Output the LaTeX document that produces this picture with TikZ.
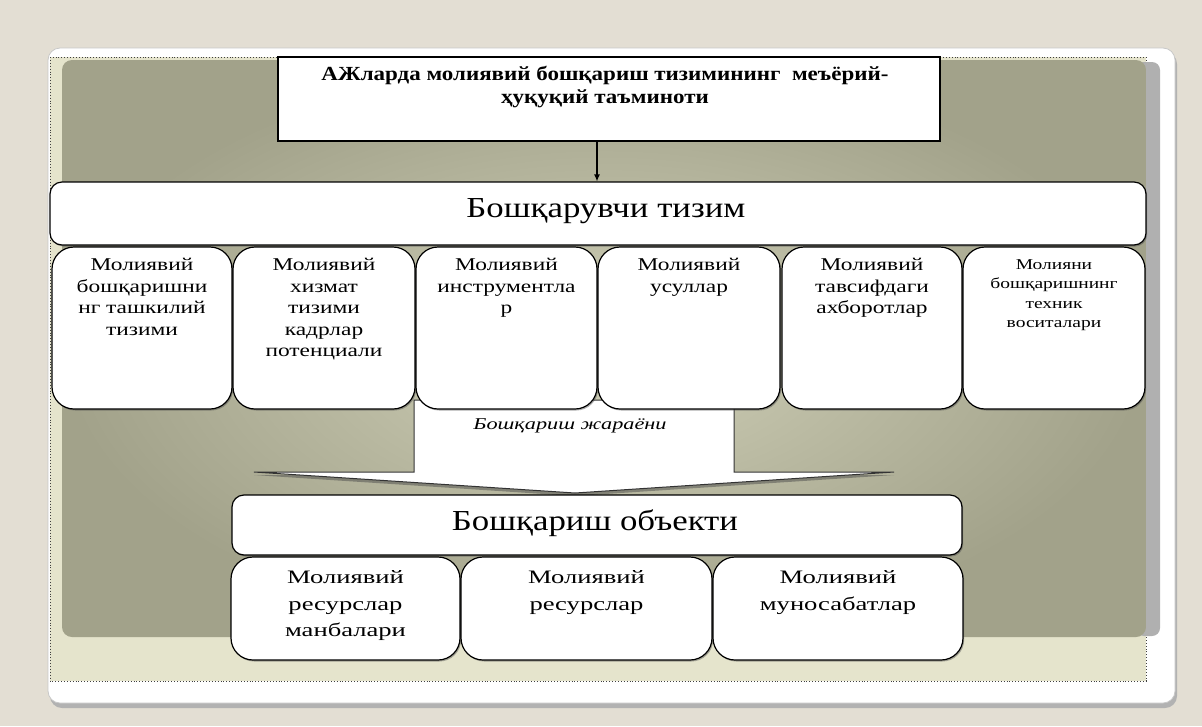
\documentclass[tikz,border=0pt]{standalone}
\usepackage{fontspec}
\setmainfont{Liberation Serif}
\newfontfamily\fsix[FakeStretch=1.3]{Liberation Serif}
\newfontfamily\ftop[FakeStretch=1.15]{Liberation Serif}
\newfontfamily\fbig[FakeStretch=1.2]{Liberation Serif}
\newfontfamily\flow[FakeStretch=1.4]{Liberation Serif}
\newfontfamily\fit[FakeStretch=1.35]{Liberation Serif}
\usetikzlibrary{shadows,arrows.meta}
\definecolor{bgcol}{HTML}{E3DED3}
\definecolor{cream}{HTML}{E5E4CC}
\definecolor{oliveout}{HTML}{A2A28A}
\definecolor{olivein}{HTML}{D0D0B8}
\definecolor{sidegray}{HTML}{B0B0B0}
\definecolor{cardline}{HTML}{C8C8C8}
\begin{document}
\begin{tikzpicture}[x=1pt,y=-1pt,
  bx/.style={draw=black, line width=1.2pt, fill=white, inner sep=0pt,
    drop shadow={shadow xshift=1.2pt, shadow yshift=-1.5pt, fill=black!70, opacity=0.45}},
  tall/.style={bx, rounded corners=22pt, minimum height=162pt},
  wide/.style={bx, rounded corners=12pt},
  low/.style={bx, rounded corners=22pt, minimum height=103pt},
  sixtxt/.style={anchor=north, align=center, inner sep=0pt, font=\fsix\fontsize{18}{21.5}\selectfont},
  smalltxt/.style={anchor=north, align=center, inner sep=0pt, font=\fsix\fontsize{15}{19.5}\selectfont},
  lowtxt/.style={anchor=north, align=center, inner sep=0pt, font=\flow\fontsize{19}{26.5}\selectfont},
  bigtxt/.style={font=\fbig\fontsize{29}{32}\selectfont}
]
\useasboundingbox (0,0) rectangle (1202,726);
\fill[bgcol] (0,0) rectangle (1202,726);
% card with shadow
\fill[black!30, rounded corners=12pt] (50,52) rectangle (1177,708);
\filldraw[fill=white, draw=cardline, line width=0.8pt, rounded corners=12pt] (48,48) rectangle (1175,703);
% dotted frame
\filldraw[fill=cream, draw=black!75, dotted, line width=0.9pt] (50,57) rectangle (1146,681);
% right gray shadow
\fill[sidegray, rounded corners=8pt] (1136,62) rectangle (1160,636);
% olive panel
\shade[inner color=olivein, outer color=oliveout, rounded corners=10pt] (62,60) rectangle (1146,637);

% block arrow (behind the boxes)
\filldraw[fill=white, draw=black!80, line width=1pt,
  drop shadow={shadow xshift=0pt, shadow yshift=-3pt, fill=black!70, opacity=0.5}]
  (414,400) -- (414,472) -- (254,472) -- (575,493) -- (894,472) -- (734,472) -- (734,400) -- cycle;
\node[font=\fit\itshape\fontsize{16.5}{18}\selectfont] (proc) at (570,426) {Бошқариш жараёни};

% top box
\node[draw=black, line width=1.2pt, fill=white, minimum width=662pt, minimum height=84pt, inner sep=0pt] (top) at (609,99) {};
\node[anchor=north, align=center, inner sep=0pt, font=\ftop\bfseries\fontsize{20}{23}\selectfont] (toptxt) at (605,66)
  {АЖларда молиявий бошқариш тизимининг\ \ меъёрий-\\ҳуқуқий таъминоти};

% control system
\node[wide, minimum width=1096pt, minimum height=63pt] (ctrl) at (598,213.5) {};
\node[bigtxt] (ctrltxt) at (606,211) {Бошқарувчи тизим};

% arrow from top to control system
\coordinate (ax) at (597,0);
\draw[line width=1.2pt, -{Latex[length=7pt,width=6pt]}] (top.south -| ax) -- (ctrl.north -| ax);

% six boxes
\node[tall, minimum width=180pt] (b1) at (142,328) {};
\node[tall, minimum width=182pt] (b2) at (324,328) {};
\node[tall, minimum width=181pt] (b3) at (506.5,328) {};
\node[tall, minimum width=182pt] (b4) at (689,328) {};
\node[tall, minimum width=180pt] (b5) at (872,328) {};
\node[tall, minimum width=182pt] (b6) at (1054,328) {};
\node[sixtxt] (t1) at ([yshift=-12pt]b1.north) {Молиявий\\бошқаришни\\нг ташкилий\\тизими};
\node[sixtxt] (t2) at ([yshift=-12pt]b2.north) {Молиявий\\хизмат\\тизими\\кадрлар\\потенциали};
\node[sixtxt] (t3) at ([yshift=-12pt]b3.north) {Молиявий\\инструментла\\р};
\node[sixtxt] (t4) at ([yshift=-12pt]b4.north) {Молиявий\\усуллар};
\node[sixtxt] (t5) at ([yshift=-12pt]b5.north) {Молиявий\\тавсифдаги\\ахборотлар};
\node[smalltxt] (t6) at ([yshift=-13pt]b6.north) {Молияни\\бошқаришнинг\\техник\\воситалари};

% object
\node[wide, minimum width=730pt, minimum height=60pt] (obj) at (597,525) {};
\node[bigtxt] (objtxt) at (595,523) {Бошқариш объекти};

% three lower boxes
\node[low, minimum width=229pt] (c1) at (345.5,608.5) {};
\node[low, minimum width=251pt] (c2) at (586.5,608.5) {};
\node[low, minimum width=250pt] (c3) at (838,608.5) {};
\node[lowtxt] (u1) at ([yshift=-14pt]c1.north) {Молиявий\\ресурслар\\манбалари};
\node[lowtxt] (u2) at ([yshift=-14pt]c2.north) {Молиявий\\ресурслар};
\node[lowtxt] (u3) at ([yshift=-14pt]c3.north) {Молиявий\\муносабатлар};
\end{tikzpicture}
\end{document}
